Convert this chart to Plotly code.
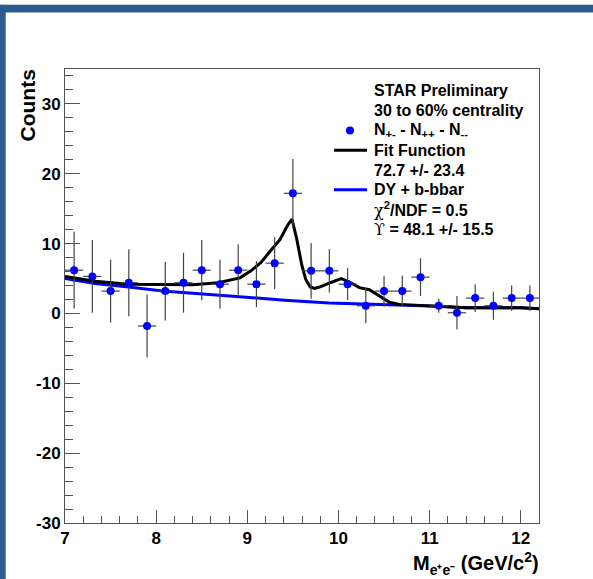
import plotly.graph_objects as go

# ---- data ----
mass = [7.1, 7.3, 7.5, 7.7, 7.9, 8.1, 8.3, 8.5, 8.7, 8.9, 9.1, 9.3, 9.5,
        9.7, 9.9, 10.1, 10.3, 10.5, 10.7, 10.9, 11.1, 11.3, 11.5, 11.7, 11.9, 12.1]
counts = [6.2, 5.3, 3.2, 4.4, -1.8, 3.2, 4.4, 6.2, 4.2, 6.2, 4.2, 7.2, 17.2,
          6.1, 6.1, 4.2, 1.1, 3.2, 3.2, 5.2, 1.1, 0.1, 2.2, 1.1, 2.2, 2.2]
count_err = [5.5, 5.2, 4.5, 4.8, 4.5, 4.2, 4.3, 4.3, 3.5, 3.7, 3.3, 3.7, 4.9,
             4.0, 3.1, 2.3, 2.5, 2.2, 2.2, 2.7, 1.0, 2.4, 2.0, 2.0, 1.8, 1.8]
bin_half_width = 0.1

fit_x = [7.0, 7.33, 7.7, 8.05, 8.4, 8.68, 8.86, 8.92, 9.04, 9.15, 9.25, 9.36, 9.44,
         9.49, 9.54, 9.6, 9.64, 9.69, 9.74, 9.8, 9.91, 10.03, 10.12, 10.23, 10.34,
         10.45, 10.56, 10.67, 11.0, 11.4, 12.0, 12.2]
fit_y = [5.3, 4.6, 4.2, 4.1, 4.1, 4.4, 4.9, 5.1, 6.1, 7.3, 8.9, 10.6, 12.6,
         13.5, 10.8, 6.8, 4.9, 3.8, 3.6, 3.8, 4.4, 5.0, 4.5, 3.7, 3.4,
         2.5, 1.6, 1.3, 1.05, 0.8, 0.8, 0.67]

bkg_x = [7.0, 7.33, 7.7, 8.07, 8.4, 8.68, 9.04, 9.41, 9.9, 10.5, 11.1, 11.4, 12.0, 12.2]
bkg_y = [5.0, 4.3, 3.8, 3.2, 2.9, 2.6, 2.2, 1.9, 1.5, 1.3, 1.05, 0.8, 0.8, 0.67]

x_ticks = [7, 8, 9, 10, 11, 12]
x_tick_text = ["7", "8", "9", "10", "11", "12"]
y_ticks = [-30, -20, -10, 0, 10, 20, 30]
y_tick_text = ["-30", "-20", "-10", "0", "10", "20", "30"]

SERIF = "<span style='font-family:DejaVu Serif;font-weight:normal'>{}</span>"
legend_lines = ["STAR Preliminary", "30 to 60% centrality",
                "N<sub>+-</sub> - N<sub>++</sub> - N<sub>--</sub>",
                "Fit Function", "72.7 +/- 23.4", "DY + b-bbar",
                SERIF.format("χ") + "<sup>2</sup>/NDF = 0.5",
                SERIF.format("ϒ") + " = 48.1 +/- 15.5"]

# ---- layout geometry (pixels) ----
W, H = 593, 579
L, R, T, B = 65, 539, 68.5, 522.7
PW, PH = R - L, B - T


def px(x):
    return (x - L) / PW


def py(y):
    return (B - y) / PH


FONT = "Liberation Sans, Arial, Helvetica, sans-serif"
AXC = "#555555"
BLUE = "#0000ff"

fig = go.Figure()
fig.add_trace(go.Scatter(x=bkg_x, y=bkg_y, mode="lines",
                         line=dict(color=BLUE, width=3), hoverinfo="skip"))
fig.add_trace(go.Scatter(x=fit_x, y=fit_y, mode="lines",
                         line=dict(color="black", width=3), hoverinfo="skip"))
fig.add_trace(go.Scatter(
    x=mass, y=counts, mode="markers",
    marker=dict(color=BLUE, size=8),
    error_y=dict(type="data", array=count_err, color="#444444", thickness=1.2, width=0),
    error_x=dict(type="constant", value=bin_half_width, color="#444444", thickness=1.2, width=0),
))

fig.update_xaxes(range=[7, 12.2], tickvals=x_ticks, ticktext=x_tick_text,
                 ticks="inside", ticklen=13,
                 tickwidth=1, tickcolor=AXC, showline=True, linecolor=AXC, linewidth=1,
                 mirror=True, showgrid=False, zeroline=False,
                 tickfont=dict(family=FONT, size=17, color="black", weight="bold"),
                 minor=dict(dtick=0.2, tick0=7, ticks="inside", ticklen=7,
                            tickcolor=AXC, showgrid=False))
fig.update_yaxes(range=[-30, 35], tickvals=y_ticks, ticktext=y_tick_text,
                 ticks="inside", ticklen=15,
                 tickwidth=1, tickcolor=AXC, showline=True, linecolor=AXC, linewidth=1,
                 mirror=True, showgrid=False, zeroline=False,
                 tickfont=dict(family=FONT, size=17, color="black", weight="bold"),
                 minor=dict(dtick=2, tick0=-30, ticks="inside", ticklen=7.5,
                            tickcolor=AXC, showgrid=False))

annotations = []
y0, dy = 90.4, 19.8
for i, t in enumerate(legend_lines):
    annotations.append(dict(x=px(372), y=py(y0 + i * dy), xref="paper", yref="paper",
                            text=t, showarrow=False, xanchor="left", yanchor="middle",
                            font=dict(family=FONT, size=16, color="black", weight="bold")))
annotations.append(dict(x=px(27), y=py(105), xref="paper", yref="paper", text="Counts",
                        textangle=-90, showarrow=False, xanchor="center", yanchor="middle",
                        font=dict(family=FONT, size=21, color="black", weight="bold")))
annotations.append(dict(x=px(541), y=py(563), xref="paper", yref="paper",
                        text="M<sub>e⁺e⁻</sub> (GeV/c<sup>2</sup>)",
                        showarrow=False, xanchor="right", yanchor="middle",
                        font=dict(family=FONT, size=20, color="black", weight="bold")))

shapes = [
    # blue frame of the slide
    dict(type="rect", xref="paper", yref="paper", x0=px(0), x1=px(W), y0=py(4.3), y1=py(12),
         fillcolor="#295b8d", line=dict(width=0)),
    dict(type="rect", xref="paper", yref="paper", x0=px(0), x1=px(5.7), y0=py(4.3), y1=py(H),
         fillcolor="#295b8d", line=dict(width=0)),
    # legend samples
    dict(type="line", xref="paper", yref="paper", x0=px(334), x1=px(367),
         y0=py(y0 + 3 * dy), y1=py(y0 + 3 * dy), line=dict(color="black", width=3)),
    dict(type="line", xref="paper", yref="paper", x0=px(334), x1=px(367),
         y0=py(y0 + 5 * dy), y1=py(y0 + 5 * dy), line=dict(color=BLUE, width=3)),
    dict(type="circle", xref="paper", yref="paper", x0=px(346), x1=px(354),
         y0=py(y0 + 2 * dy - 4), y1=py(y0 + 2 * dy + 4), fillcolor=BLUE, line=dict(width=0)),
]

fig.update_layout(width=W, height=H, margin=dict(l=L, r=W - R, t=T, b=H - B, pad=0),
                  paper_bgcolor="white", plot_bgcolor="white", showlegend=False,
                  annotations=annotations, shapes=shapes)

fig.write_html("out.html")
